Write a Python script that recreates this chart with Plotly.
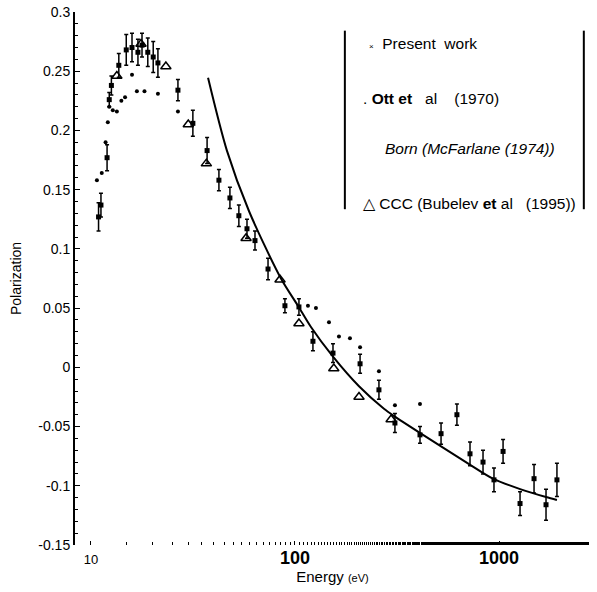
import plotly.graph_objs as go

# Present work (with error bars)
pw_energy = [10.9, 11.2, 12.0, 12.3, 12.6, 13.7, 14.9, 15.9, 17.0, 17.8, 19.0, 20.2, 21.3,
             26.7, 31.6, 37.1, 42.4, 48.0, 53.1, 58.2, 63.7, 73.8, 89.3, 104.6, 122.5,
             153.6, 208.5, 258, 309, 410, 520, 622, 721, 835, 945, 1047, 1268, 1485, 1700, 1923]
pw_pol = [0.127, 0.137, 0.177, 0.226, 0.238, 0.255, 0.268, 0.270, 0.266, 0.272, 0.266, 0.262, 0.257,
          0.234, 0.206, 0.183, 0.158, 0.143, 0.128, 0.117, 0.107, 0.083, 0.052, 0.051, 0.022,
          0.012, 0.003, -0.019, -0.047, -0.057, -0.056, -0.040, -0.073, -0.080, -0.095, -0.071,
          -0.115, -0.094, -0.116, -0.095]
pw_err = [0.012, 0.010, 0.011, 0.006, 0.008, 0.010, 0.013, 0.012, 0.011, 0.010, 0.012, 0.013, 0.012,
          0.009, 0.011, 0.011, 0.009, 0.009, 0.009, 0.008, 0.008, 0.009, 0.006, 0.007, 0.008,
          0.008, 0.008, 0.008, 0.008, 0.007, 0.009, 0.009, 0.010, 0.010, 0.010, 0.010,
          0.010, 0.012, 0.013, 0.014]

# Ott et al (1970)
ott_energy = [10.7, 11.3, 11.8, 12.1, 12.3, 12.8, 13.4, 14.1, 14.7, 15.9, 16.8, 18.3, 21.3, 26.7,
              115.8, 126.7, 146.8, 164.3, 186, 208.5, 258, 309, 410]
ott_pol = [0.158, 0.164, 0.190, 0.207, 0.220, 0.217, 0.216, 0.225, 0.228, 0.247, 0.233, 0.233, 0.231, 0.216,
           0.052, 0.050, 0.038, 0.026, 0.0246, 0.017, -0.0034, -0.032, -0.031]

# Born (McFarlane 1974)
born_energy = [37.5, 46.4, 59.5, 85.4, 103.4, 119.8, 153.6, 206, 273, 305, 415, 710, 934, 1280, 1700, 1923]
born_pol = [0.2445, 0.183, 0.132, 0.075, 0.052, 0.034, 0.009, -0.016, -0.035, -0.041, -0.056,
            -0.0815, -0.094, -0.103, -0.1095, -0.112]

# CCC (Bubelev et al 1995)
ccc_energy = [13.4, 17.6, 23.3, 30.0, 36.8, 57.6, 84.5, 104.6, 155, 206, 296]
ccc_pol = [0.246, 0.273, 0.254, 0.205, 0.172, 0.109, 0.074, 0.037, -0.001, -0.025, -0.044]

y_ticks = [0.3, 0.25, 0.2, 0.15, 0.1, 0.05, 0, -0.05, -0.1, -0.15]
y_labels = ["0.3", "0.25", "0.2", "0.15", "0.1", "0.05", "0", "-0.05", "-0.1", "-0.15"]
x_ticks = [10, 100, 1000]
x_labels = ["<span style='font-size:13px'>10</span>",
            "<b>100</b>", "<b>1000</b>"]

FONT = "Liberation Sans, Arial, sans-serif"

fig = go.Figure()
fig.add_trace(go.Scatter(
    x=born_energy, y=born_pol, mode="lines", name="Born",
    line=dict(color="black", width=2, shape="spline", smoothing=0.8)
))
fig.add_trace(go.Scatter(
    x=ott_energy, y=ott_pol, mode="markers", name="Ott",
    marker=dict(color="black", size=4, symbol="circle")
))
fig.add_trace(go.Scatter(
    x=ccc_energy, y=ccc_pol, mode="markers", name="CCC",
    marker=dict(color="black", size=9, symbol="triangle-up-open", line=dict(width=1.5))
))
fig.add_trace(go.Scatter(
    x=pw_energy, y=pw_pol, mode="markers", name="Present work",
    marker=dict(color="black", size=5, symbol="square"),
    error_y=dict(type="data", array=pw_err, color="black", thickness=1.5, width=2)
))

# legend drawn as a bracketed text block
for xp in [0.524, 0.988]:
    fig.add_shape(type="line", xref="paper", yref="paper", x0=xp, x1=xp, y0=0.63, y1=0.965,
                  line=dict(color="black", width=2))

legend_rows = [
    (0.567, 0.94, "<span style='font-size:8px'>×</span>  Present  work"),
    (0.556, 0.837, ". <b>Ott et</b>   al    (1970)"),
    (0.598, 0.743, "<i>Born (McFarlane (1974))</i>"),
    (0.556, 0.64, "△ CCC (Bubelev <b>et</b> al   (1995))"),
]
for xp, yp, txt in legend_rows:
    fig.add_annotation(xref="paper", yref="paper", x=xp, y=yp, text=txt, showarrow=False,
                       xanchor="left", yanchor="middle", font=dict(size=15.5, color="black", family=FONT))

fig.update_layout(
    width=597, height=592,
    margin=dict(l=75, r=7, t=12, b=47),
    paper_bgcolor="white", plot_bgcolor="white",
    showlegend=False,
    font=dict(family=FONT, color="black", size=14),
)
fig.update_xaxes(
    type="log", range=[0.922, 3.446],
    tickvals=x_ticks, ticktext=x_labels, tickfont=dict(size=18),
    ticks="inside", ticklen=4, tickcolor="black",
    showline=False, showgrid=False, zeroline=False, automargin=False,
    minor=dict(ticks="inside", ticklen=3, tickcolor="black", showgrid=False),
    title=dict(text="Energy <span style='font-size:11px'>(eV)</span>", font=dict(size=15), standoff=4),
)
fig.update_yaxes(
    range=[-0.15, 0.3],
    tickvals=y_ticks, ticktext=y_labels,
    ticks="inside", ticklen=5, tickcolor="black",
    showline=True, linecolor="black", linewidth=2,
    showgrid=False, zeroline=False, automargin=False,
    minor=dict(ticks="inside", ticklen=3, tickcolor="black", dtick=0.01),
    title=dict(text="Polarization", font=dict(size=14), standoff=13),
)

# drop the default 8px body margin so the 597x592 figure fills the window exactly
fig.write_html("out.html", config={"displayModeBar": False},
               post_script="document.body.style.margin='0';document.body.style.overflow='hidden';")
